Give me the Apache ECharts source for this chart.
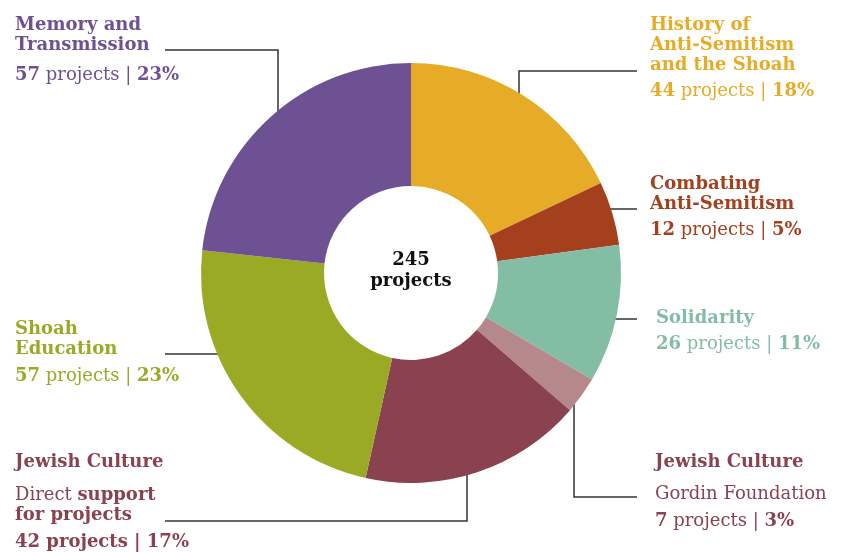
<!DOCTYPE html>
<html lang="en">

<head>
  <meta charset="utf-8">
  <title>Projects by theme</title>
  <script src="https://cdn.jsdelivr.net/npm/echarts@6/dist/echarts.min.js"></script>
  <style>
    html, body { margin: 0; padding: 0; background: #fff; }
    #main { width: 846px; height: 552px; }
  </style>
</head>

<body>
  <div id="main"></div>

  <script>
    // data, clockwise from 12 o'clock
    var themes = ['History of Anti-Semitism and the Shoah', 'Combating Anti-Semitism', 'Solidarity',
      'Jewish Culture - Gordin Foundation', 'Jewish Culture - Direct support for projects',
      'Shoah Education', 'Memory and Transmission'];
    var projects = [44, 12, 26, 7, 42, 57, 57];
    var titleLines = [
      ['History of', 'Anti-Semitism', 'and the Shoah'],
      ['Combating', 'Anti-Semitism'],
      ['Solidarity'],
      ['Jewish Culture'],
      ['Jewish Culture'],
      ['Shoah', 'Education'],
      ['Memory and', 'Transmission']
    ];
    // sub lines: pieces of [text, bold?]
    var subLines = [
      [], [], [],
      [[['Gordin Foundation', false]]],
      [[['Direct ', false], ['support', true]], [['for projects', true]]],
      [], []
    ];
    var colors = ['#E6AC27', '#A5401F', '#83BEA4', '#B5888B', '#8A4250', '#9AAA24', '#6E5193'];
    // both Jewish Culture labels use the darker maroon
    var textColors = ['#E6AC27', '#A5401F', '#83BEA4', '#8A4250', '#8A4250', '#9AAA24', '#6E5193'];

    var CX = 411, CY = 273, R_IN = 87, R_OUT = 210;
    var FONT = '"DejaVu Serif", "Liberation Serif", serif';
    var total = projects.reduce(function(a, b) { return a + b; }, 0);

    // where each label sits: text top-left, leader line height, elbow x, line end x
    var labelPos = [
      { x: 650, y: 15, gapSub: 0, gapNum: 6, lineY: 71, elbowX: 519, endX: 637 },
      { x: 650, y: 174, gapSub: 0, gapNum: 6, lineY: 209, elbowX: null, endX: 637 },
      { x: 656, y: 308, gapSub: 0, gapNum: 6, lineY: 319, elbowX: null, endX: 637 },
      { x: 655, y: 452, gapSub: 12, gapNum: 7, lineY: 497, elbowX: 574, endX: 637 },
      { x: 15, y: 452, gapSub: 13, gapNum: 7, lineY: 521, elbowX: 467, endX: 165, allBold: true },
      { x: 15, y: 319, gapSub: 0, gapNum: 7, lineY: 354, elbowX: null, endX: 165 },
      { x: 15, y: 15, gapSub: 0, gapNum: 10, lineY: 50, elbowX: 278, endX: 165 }
    ];

    function leader(p) {
      var r = R_OUT - 1;
      if (p.elbowX != null) {
        var dx = p.elbowX - CX;
        var yEdge = CY + (p.lineY > CY ? 1 : -1) * Math.sqrt(r * r - dx * dx);
        return [[p.elbowX, yEdge], [p.elbowX, p.lineY], [p.endX, p.lineY]];
      }
      var dy = p.lineY - CY;
      var xEdge = CX + (p.endX > CX ? 1 : -1) * Math.sqrt(r * r - dy * dy);
      return [[xEdge, p.lineY], [(xEdge + p.endX) / 2, p.lineY], [p.endX, p.lineY]];
    }

    var rich = {
      t: { fontFamily: FONT, fontWeight: 'bold', fontSize: 18, lineHeight: 20 },
      l: { fontFamily: FONT, fontWeight: 'normal', fontSize: 18, lineHeight: 20 }
    };
    [6, 7, 10, 12, 13].forEach(function(g) {
      rich['g' + g] = { fontSize: 1, lineHeight: g };
    });

    function labelText(i) {
      var p = labelPos[i];
      var out = titleLines[i].map(function(s) { return '{t|' + s + '}'; });
      if (subLines[i].length) {
        if (p.gapSub) out.push('{g' + p.gapSub + '| }');
        subLines[i].forEach(function(line) {
          out.push(line.map(function(pc) {
            return '{' + (pc[1] ? 't' : 'l') + '|' + pc[0] + '}';
          }).join(''));
        });
      }
      if (p.gapNum) out.push('{g' + p.gapNum + '| }');
      var pct = Math.round(projects[i] / total * 100) + '%';
      var mid = p.allBold ? 't' : 'l';
      out.push('{t|' + projects[i] + '}{' + mid + '| projects | }{t|' + pct + '}');
      return out.join('\n');
    }

    var myChart = echarts.init(document.getElementById('main'));

    var option = {
      animation: false,
      graphic: [{
        type: 'text',
        x: CX,
        y: 271,
        style: {
          text: total + '\nprojects',
          align: 'center',
          verticalAlign: 'middle',
          fontFamily: FONT,
          fontWeight: 'bold',
          fontSize: 18,
          lineHeight: 21,
          fill: '#111'
        }
      }],
      series: [{
        type: 'pie',
        center: [CX, CY],
        radius: [R_IN, R_OUT],
        startAngle: 90,
        clockwise: true,
        avoidLabelOverlap: false,
        silent: true,
        label: {
          show: true,
          position: 'outside',
          formatter: function(params) { return labelText(params.dataIndex); },
          rich: rich
        },
        labelLine: {
          show: true,
          lineStyle: { color: '#333', width: 1.5 }
        },
        labelLayout: function(params) {
          var p = labelPos[params.dataIndex];
          return {
            x: p.x,
            y: p.y,
            align: 'left',
            verticalAlign: 'top',
            labelLinePoints: leader(p)
          };
        },
        data: themes.map(function(name, i) {
          return {
            name: name,
            value: projects[i],
            itemStyle: { color: colors[i] },
            label: { color: textColors[i] }
          };
        })
      }]
    };

    myChart.setOption(option);
  </script>
</body>

</html>
